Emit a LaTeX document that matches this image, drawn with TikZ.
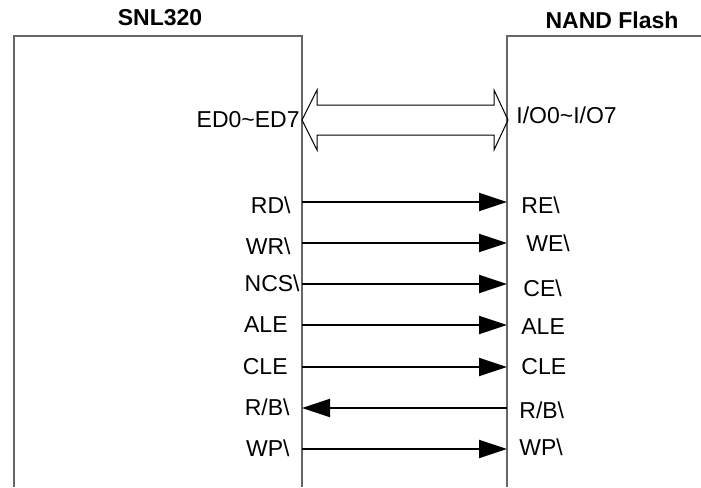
\documentclass[tikz,border=0pt]{standalone}
\usepackage{fontspec}
\setmainfont{Liberation Sans}
\usepackage{tikz}
\usetikzlibrary{arrows.meta}
\definecolor{boxgray}{HTML}{666666}

\begin{document}
\begin{tikzpicture}[
  x=0.5pt, y=-0.5pt,
  font=\fontsize{11.5}{13}\selectfont,
  chip/.style={draw=boxgray, line width=0.6pt},
  title/.style={font=\fontsize{11.5}{13}\selectfont\bfseries, inner sep=0pt},
  pinl/.style={anchor=east, inner sep=0pt},
  pinr/.style={anchor=west, inner sep=0pt},
  bus/.style={draw=black, line width=0.5pt, line join=miter},
  sig/.style={-{Triangle[length=14pt,width=9pt]}, line width=1pt, black}
]
\useasboundingbox (0,0) rectangle (701,487);
% chips (open at the bottom)
\draw[chip] (14,487) -- (14,36) -- (302,36) -- (302,487);
\draw[chip] (507,487) -- (507,36) -- (701,36);
\node[title] (snl) at (160,18) {SNL320};
\node[title] (nand) at (612,20) {NAND Flash};
% data bus
\draw[bus] (302,120) -- (317,90) -- (317,105) -- (494,105) -- (494,90)
  -- (508,120) -- (494,150) -- (494,135) -- (317,135) -- (317,150) -- cycle;
\node[pinl] (ed) at (300,120) {ED0\textasciitilde ED7};
\node[pinr] (io) at (516,115) {I/O0\textasciitilde I/O7};
% control lines
\foreach \n/\y in {rd/202, wr/243, ncs/284, ale/325, cle/367, rb/408, wp/449} {
  \coordinate (l\n) at (302,\y);
  \coordinate (r\n) at (507,\y);
}
\node[pinl] (rdL)  at (291,205) {RD\textbackslash};
\node[pinl] (wrL)  at (291,246) {WR\textbackslash};
\node[pinl] (ncsL) at (300,283) {NCS\textbackslash};
\node[pinl] (aleL) at (288,325) {ALE};
\node[pinl] (cleL) at (288,367) {CLE};
\node[pinl] (rbL)  at (290,407) {R/B\textbackslash};
\node[pinl] (wpL)  at (290,448) {WP\textbackslash};
\node[pinr] (reR)  at (521,205) {RE\textbackslash};
\node[pinr] (weR)  at (526,243) {WE\textbackslash};
\node[pinr] (ceR)  at (523,288) {CE\textbackslash};
\node[pinr] (aleR) at (521,327) {ALE};
\node[pinr] (cleR) at (521,367) {CLE};
\node[pinr] (rbR)  at (519,410) {R/B\textbackslash};
\node[pinr] (wpR)  at (519,447) {WP\textbackslash};
\foreach \n in {rd, wr, ncs, ale, cle, wp}
  \draw[sig] (l\n) -- (r\n);
\draw[sig] (rrb) -- (lrb);
\end{tikzpicture}
\end{document}
